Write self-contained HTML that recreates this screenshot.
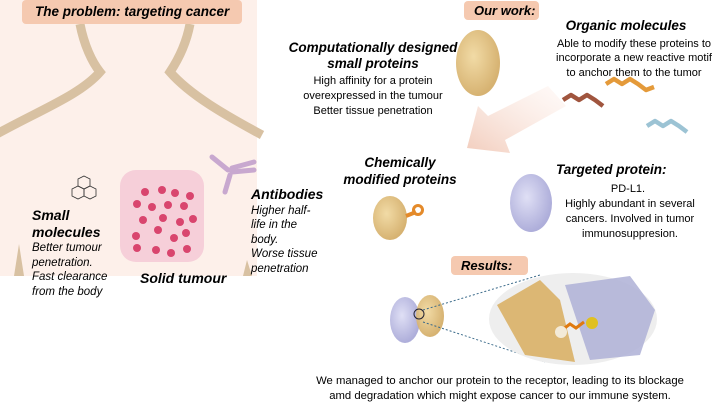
<!DOCTYPE html>
<html><head><meta charset="utf-8"><style>
html,body{margin:0;padding:0;background:#fff;}
svg{display:block;font-family:"Liberation Sans",sans-serif;}
.b{font-weight:bold;font-style:italic;}
</style></head><body>
<svg width="720" height="405" viewBox="0 0 720 405" xmlns="http://www.w3.org/2000/svg">
<defs>
<linearGradient id="ag" x1="1" y1="0" x2="0" y2="1">
<stop offset="0" stop-color="#fdeee8" stop-opacity="0.3"/>
<stop offset="1" stop-color="#f2cdbd"/>
</linearGradient>
<radialGradient id="pg" cx="0.4" cy="0.4" r="0.6"><stop offset="0" stop-color="#f0d79c"/><stop offset="1" stop-color="#d2aa62"/></radialGradient>
<radialGradient id="vg" cx="0.4" cy="0.4" r="0.6"><stop offset="0" stop-color="#dcdcf4"/><stop offset="1" stop-color="#a5a5d6"/></radialGradient>
</defs>
<rect x="0" y="0" width="257" height="276" fill="#fdf0ea"/>
<path d="M80,24 C84,45 92,62 100,72 C80,95 40,110 -5,135" fill="none" stroke="#d8c1a2" stroke-width="9"/>
<path d="M190,24 C186,45 178,60 170,72 C190,95 225,115 262,135" fill="none" stroke="#d8c1a2" stroke-width="9"/>
<polygon points="14,276 19,244 24,276" fill="#d8c1a2"/>
<polygon points="243,276 247,260 252,276" fill="#d8c1a2"/>
<rect x="22" y="0" width="220" height="24" rx="4" fill="#f5c9b0"/>
<text x="35" y="16" class="b" font-size="13.5">The problem: targeting cancer</text>
<g fill="none" stroke="#333" stroke-width="0.8">
<polygon points="84,176 90,179 90,186 84,189 78,186 78,179"/>
<polygon points="78,186 84,189 84,196 78,199 72,196 72,189"/>
<polygon points="90,186 96,189 96,196 90,199 84,196 84,189"/>
</g>
<text x="32" y="220" class="b" font-size="14">Small</text>
<text x="32" y="237" class="b" font-size="14">molecules</text>
<g font-style="italic" font-size="11.5">
<text x="32" y="251">Better  tumour</text>
<text x="32" y="266">penetration.</text>
<text x="32" y="280">Fast clearance</text>
<text x="32" y="295">from the body</text>
</g>
<rect x="120" y="170" width="84" height="92" rx="16" fill="#f6cfd9"/>
<g fill="#d9456e">
<circle cx="145" cy="192" r="4"/><circle cx="162" cy="190" r="4"/><circle cx="175" cy="193" r="4"/><circle cx="190" cy="196" r="4"/>
<circle cx="137" cy="204" r="4"/><circle cx="152" cy="207" r="4"/><circle cx="168" cy="205" r="4"/><circle cx="184" cy="206" r="4"/>
<circle cx="143" cy="220" r="4"/><circle cx="163" cy="218" r="4"/><circle cx="180" cy="222" r="4"/><circle cx="193" cy="219" r="4"/>
<circle cx="158" cy="230" r="4"/><circle cx="174" cy="238" r="4"/><circle cx="186" cy="233" r="4"/><circle cx="136" cy="236" r="4"/>
<circle cx="137" cy="248" r="4"/><circle cx="156" cy="250" r="4"/><circle cx="171" cy="253" r="4"/><circle cx="187" cy="249" r="4"/>
</g>
<text x="140" y="283" class="b" font-size="14">Solid tumour</text>
<g stroke="#c8a8cf" stroke-width="5" stroke-linecap="round" fill="none">
<line x1="212" y1="157" x2="228" y2="170"/><line x1="232" y1="168" x2="254" y2="162"/><line x1="232" y1="172" x2="254" y2="170"/><line x1="230" y1="175" x2="225" y2="192"/>
</g>
<text x="251" y="199" class="b" font-size="14">Antibodies</text>
<g font-style="italic" font-size="11.5">
<text x="251" y="214">Higher half-</text>
<text x="251" y="228">life in the</text>
<text x="251" y="243">body.</text>
<text x="251" y="257">Worse tissue</text>
<text x="251" y="272">penetration</text>
</g>
<rect x="464" y="1" width="75" height="19" rx="4" fill="#f5c9b0"/>
<text x="474" y="15" class="b" font-size="13">Our work:</text>
<polygon points="467,148 478,106 488,116 548,86 566,106 505,140 510,153" fill="url(#ag)"/>
<text x="373" y="52" class="b" font-size="13.5" text-anchor="middle">Computationally designed</text>
<text x="373" y="68" class="b" font-size="13.5" text-anchor="middle">small proteins</text>
<g font-size="11" text-anchor="middle">
<text x="373" y="84">High affinity for a protein</text>
<text x="373" y="99">overexpressed in the tumour</text>
<text x="373" y="114">Better tissue penetration</text>
</g>
<ellipse cx="478" cy="63" rx="22" ry="33" fill="url(#pg)" opacity="0.9"/>
<text x="626" y="30" class="b" font-size="13.5" text-anchor="middle">Organic molecules</text>
<g font-size="11" text-anchor="middle">
<text x="634" y="47">Able to modify these proteins to</text>
<text x="634" y="61">incorporate a new reactive motif</text>
<text x="634" y="76">to anchor them to the tumor</text>
</g>
<g fill="none" stroke-width="4.5" stroke-linejoin="round">
<path d="M563,100 l8,-5 l8,5 l8,-5 l8,5 l8,6" stroke="#a0553e"/>
<path d="M606,84 l8,-5 l8,5 l8,-5 l8,5 l8,6 l8,-3" stroke="#e49a3a"/>
<path d="M647,126 l8,-5 l8,5 l8,-5 l8,5 l8,6" stroke="#9cc3d4"/>
</g>
<text x="400" y="167" class="b" font-size="13.5" text-anchor="middle">Chemically</text>
<text x="400" y="184" class="b" font-size="13.5" text-anchor="middle">modified proteins</text>
<ellipse cx="390" cy="218" rx="17" ry="22" fill="url(#pg)" opacity="0.9"/>
<path d="M406,216 l10,-4" stroke="#e48a2a" stroke-width="4"/>
<circle cx="418" cy="210" r="4.5" fill="none" stroke="#e48a2a" stroke-width="3"/>
<text x="556" y="174" class="b" font-size="13.5">Targeted protein:</text>
<g font-size="11" text-anchor="middle">
<text x="628" y="192">PD-L1.</text>
<text x="630" y="207">Highly abundant in several</text>
<text x="630" y="222">cancers. Involved in tumor</text>
<text x="630" y="237">immunosuppresion.</text>
</g>
<ellipse cx="531" cy="203" rx="21" ry="29" fill="url(#vg)" opacity="0.9"/>
<rect x="451" y="256" width="77" height="19" rx="4" fill="#f5c9b0"/>
<text x="461" y="270" class="b" font-size="13">Results:</text>
<ellipse cx="405" cy="320" rx="15" ry="23" fill="url(#vg)" opacity="0.9"/>
<ellipse cx="430" cy="316" rx="14" ry="21" fill="url(#pg)" opacity="0.9"/>
<ellipse cx="419" cy="314" rx="5" ry="5" fill="none" stroke="#223" stroke-width="1"/>
<line x1="423" y1="310" x2="540" y2="275" stroke="#3a6a8a" stroke-dasharray="2,2"/>
<line x1="423" y1="322" x2="545" y2="362" stroke="#3a6a8a" stroke-dasharray="2,2"/>
<ellipse cx="573" cy="319" rx="84" ry="46" fill="#eeeeee"/>
<path d="M497,305 L540,280 L560,300 L575,362 L525,355 Z" fill="#d8ad5e" opacity="0.85"/>
<path d="M565,285 L630,276 L655,310 L640,355 L590,360 Z" fill="#aeb0d6" opacity="0.85"/>
<path d="M562,330 l8,-6 l6,4 l8,-6" stroke="#e07a10" stroke-width="3" fill="none"/>
<circle cx="561" cy="332" r="6" fill="#f3ead8"/>
<circle cx="592" cy="323" r="6" fill="#e0c020"/>
<g font-size="11.3" text-anchor="middle">
<text x="500" y="384">We managed to anchor our protein to the receptor, leading to its blockage</text>
<text x="500" y="399">amd degradation which might expose cancer to our immune system.</text>
</g>
</svg>
</body></html>
